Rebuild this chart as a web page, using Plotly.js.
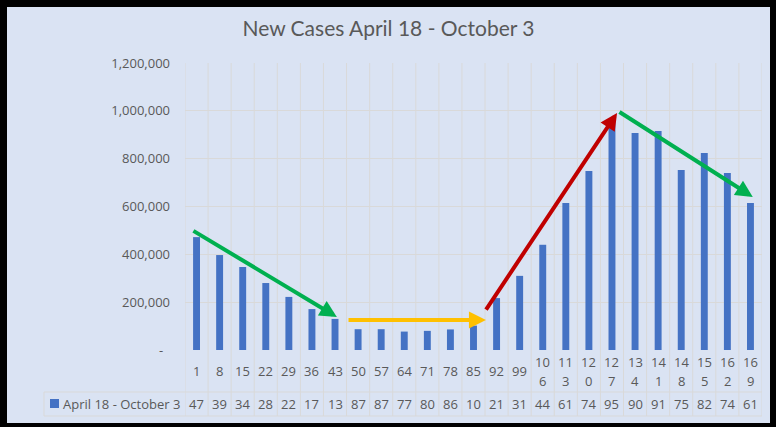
<!DOCTYPE html>
<html>
<head>
<meta charset="utf-8">
<script src="https://cdn.plot.ly/plotly-3.0.1.min.js"></script>
<style>
  html, body { margin: 0; padding: 0; background: #000; width: 776px; height: 427px; overflow: hidden; }
  #chart { position: absolute; left: 7px; top: 7px; width: 763px; height: 416px; }
</style>
</head>
<body>
<div id="chart"></div>
<script>
// ---- data ----
const categories = ["1","8","15","22","29","36","43","50","57","64","71","78","85","92","99","106","113","120","127","134","141","148","155","162","169"];
const newCases = [472000, 397000, 347000, 280000, 222000, 171000, 130000, 87000, 87000, 77000, 80000, 86000, 102000, 217000, 310000, 440000, 615000, 748000, 957000, 907000, 916000, 753000, 824000, 740000, 615000];
const seriesName = "April 18 - October 3";
const chartTitle = "New Cases April 18 - October 3";
const yTickVals = [0, 200000, 400000, 600000, 800000, 1000000, 1200000];
const yTickText = ["-\u00a0\u00a0", "200,000", "400,000", "600,000", "800,000", "1,000,000", "1,200,000"];
// trend arrows: [tailX, tailY, headX, headY, color] (x in category index units)
const trendArrows = [
  [-0.2, 502000, 6.08, 138000, "#00b050"],
  [6.52, 125000, 12.54, 125000, "#ffc000"],
  [12.5, 163000, 18.22, 991000, "#c00000"],
  [18.26, 999000, 24.1, 640000, "#00b050"]
];

// ---- layout constants ----
const W = 763, H = 416;
const M = { l: 178, r: 8, t: 56, b: 73 };
const plotH = H - M.t - M.b;  // 287
const px2py = p => -p / plotH; // pixels below axis -> paper y
const gridColor = "#d9d9d9";
const textColor = "#595959";
const tableFont = { family: "Open Sans", size: 13, color: textColor };

const n = categories.length;
const shapes = [];
const annotations = [];

// vertical grid lines through plot and data table
for (let i = 0; i <= n; i++) {
  shapes.push({ type: "line", xref: "x", yref: "paper", x0: i - 0.5, x1: i - 0.5,
    y0: px2py(66), y1: 1, line: { color: gridColor, width: 1 }, layer: "below" });
}
// table horizontal lines
const tableLeft = -0.2444;
shapes.push({ type: "line", xref: "paper", yref: "paper", x0: tableLeft, x1: 1, y0: px2py(42), y1: px2py(42), line: { color: gridColor, width: 1 } });
shapes.push({ type: "line", xref: "paper", yref: "paper", x0: tableLeft, x1: 1, y0: px2py(66), y1: px2py(66), line: { color: gridColor, width: 1 } });
shapes.push({ type: "line", xref: "paper", yref: "paper", x0: tableLeft, x1: tableLeft, y0: px2py(42), y1: px2py(66), line: { color: gridColor, width: 1 } });
// legend key square
shapes.push({ type: "rect", xref: "paper", yref: "paper", x0: -0.2340, x1: -0.2184,
  y0: px2py(58), y1: px2py(49), fillcolor: "#4472c4", line: { width: 0 } });

annotations.push({ xref: "paper", yref: "paper", x: -0.2150, y: px2py(54), xanchor: "left", yanchor: "middle",
  text: seriesName, showarrow: false, font: { family: "Open Sans", size: 13, color: textColor } });

// category row (wrapped to 2 chars per line) and value row (clipped to cell width)
for (let i = 0; i < n; i++) {
  const lab = categories[i];
  const lines = [];
  for (let k = 0; k < lab.length; k += 2) lines.push(lab.slice(k, k + 2));
  lines.forEach((ln, k) => {
    const off = 21 + (k - (lines.length - 1) / 2) * 19;
    annotations.push({ xref: "x", yref: "paper", x: i, y: px2py(off), xanchor: "center", yanchor: "middle",
      text: ln, showarrow: false, font: tableFont });
  });
  const valStr = newCases[i].toLocaleString("en-US").slice(0, 2);
  annotations.push({ xref: "x", yref: "paper", x: i, y: px2py(54), xanchor: "center", yanchor: "middle",
    text: valStr, showarrow: false, font: tableFont });
}

// trend arrows
trendArrows.forEach(a => {
  annotations.push({ xref: "x", yref: "y", axref: "x", ayref: "y",
    x: a[2], y: a[3], ax: a[0], ay: a[1], text: "", showarrow: true,
    arrowhead: 2, arrowsize: 0.85, arrowwidth: 4, arrowcolor: a[4], standoff: 0, startstandoff: 0 });
});

const trace = {
  type: "bar", x: categories, y: newCases, name: seriesName,
  marker: { color: "#4472c4" }, hoverinfo: "x+y"
};

const layout = {
  width: W, height: H,
  margin: M,
  paper_bgcolor: "#dae3f3", plot_bgcolor: "#dae3f3",
  showlegend: false,
  bargap: 0.7,
  title: { text: chartTitle, x: 0.5, xanchor: "center", y: 1 - 22 / H, yanchor: "middle",
    font: { family: "Lato", size: 21, color: textColor } },
  xaxis: { type: "category", range: [-0.5, n - 0.5], showgrid: false, showticklabels: false,
    showline: false, zeroline: false, ticks: "", fixedrange: true },
  yaxis: { range: [0, 1200000], tickvals: yTickVals, ticktext: yTickText, showgrid: true,
    gridcolor: gridColor, gridwidth: 1, zeroline: false, showline: false, ticks: "",
    ticklabelstandoff: 14, tickfont: { family: "Open Sans", size: 13, color: textColor }, fixedrange: true },
  shapes: shapes,
  annotations: annotations
};

Plotly.newPlot("chart", [trace], layout, { displayModeBar: false, staticPlot: true });
</script>
</body>
</html>
